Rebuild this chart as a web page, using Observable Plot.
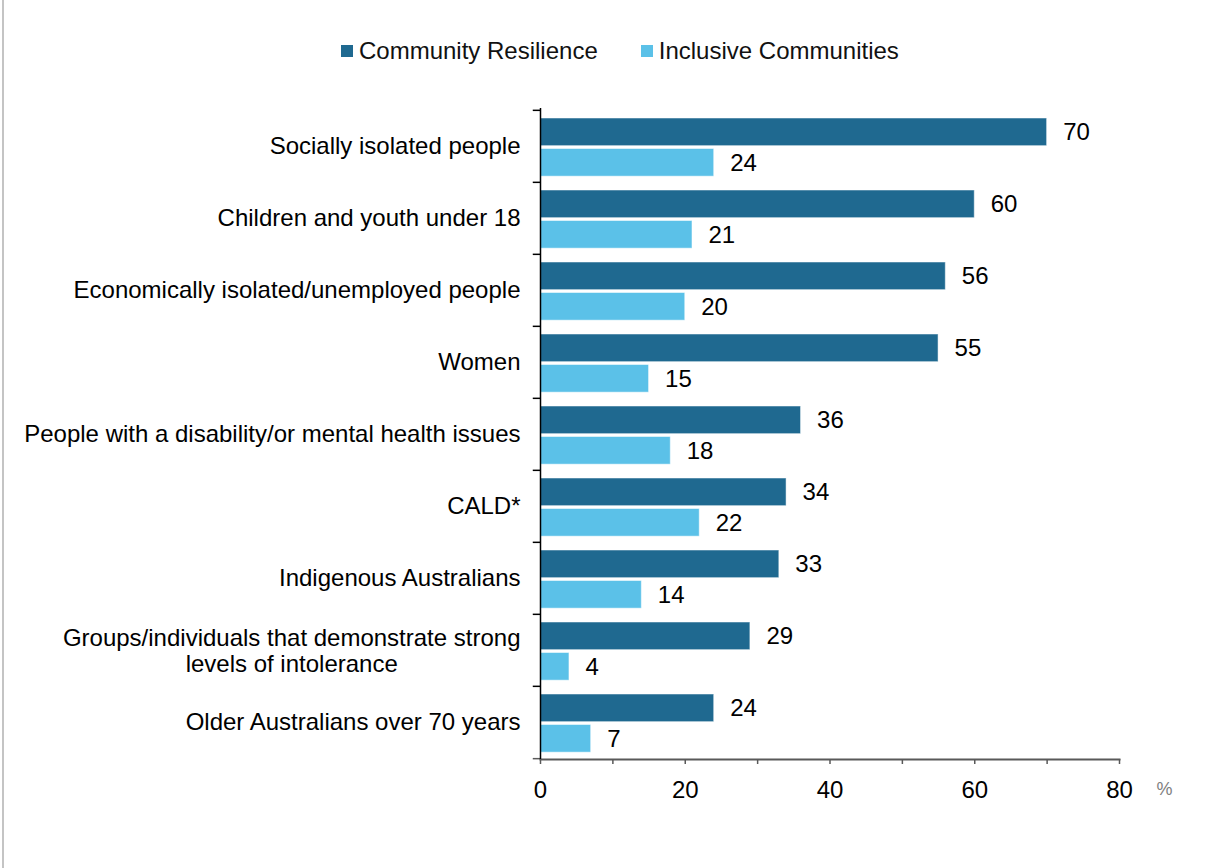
<!DOCTYPE html>
<html>
<head>
<meta charset="utf-8">
<script src="https://cdn.jsdelivr.net/npm/d3@7"></script>
<script src="https://cdn.jsdelivr.net/npm/@observablehq/plot@0.6"></script>
<style>
  html, body { margin: 0; padding: 0; background: #fff; }
  #wrap { position: relative; width: 1210px; height: 868px; overflow: hidden; font-family: "Liberation Sans", Arial, sans-serif; }
  #border { position: absolute; left: 2px; top: 0; width: 2px; height: 868px; background: #c4c4c4; }
  #legend { position: relative; height: 90px; }
  #legend .items { position: absolute; left: 341px; top: 37px; display: flex; align-items: center; font-size: 24px; line-height: 28px; color: #111; }
  #legend .item { display: flex; align-items: center; margin-right: 43px; }
  #legend .sw { width: 12px; height: 12px; margin-right: 6px; }
  svg { display: block; }
</style>
</head>
<body>
<div id="wrap">
  <div id="border"></div>
  <div id="legend"><div class="items"></div></div>
  <div id="chart"></div>
</div>
<script>
const categories = [
  "Socially isolated people",
  "Children and youth under 18",
  "Economically isolated/unemployed people",
  "Women",
  "People with a disability/or mental health issues",
  "CALD*",
  "Indigenous Australians",
  "Groups/individuals that demonstrate strong\nlevels of intolerance",
  "Older Australians over 70 years"
];
const seriesNames = ["Community Resilience", "Inclusive Communities"];
const resilience = [70, 60, 56, 55, 36, 34, 33, 29, 24];
const inclusive = [24, 21, 20, 15, 18, 22, 14, 4, 7];
const seriesColors = ["#1f6990", "#5bc1e8"];
const xTicks = [0, 10, 20, 30, 40, 50, 60, 70, 80];
const unitLabel = "%";

const fontFamily = '"Liberation Sans", Arial, sans-serif';

// Legend
const legendItems = document.querySelector("#legend .items");
seriesNames.forEach((name, i) => {
  const it = document.createElement("div");
  it.className = "item";
  const sw = document.createElement("span");
  sw.className = "sw";
  sw.style.background = seriesColors[i];
  const tx = document.createElement("span");
  tx.textContent = name;
  it.appendChild(sw); it.appendChild(tx);
  legendItems.appendChild(it);
});

const rows = categories.map((c, i) => ({category: c, res: resilience[i], inc: inclusive[i]}));

const width = 1210, height = 778;
const marginTop = 18, marginBottom = 109, marginLeft = 540, marginRight = 91;
const step = (height - marginTop - marginBottom) / categories.length;

const multi = categories.filter(c => c.includes("\n"));
const canvas = document.createElement("canvas");
const ctx = canvas.getContext("2d");
ctx.font = "24px " + fontFamily;
const multiDx = multi.map(c => {
  const w = Math.max(...c.split("\n").map(l => ctx.measureText(l).width));
  return -(20 + w / 2);
});

const chart = Plot.plot({
  width, height, marginTop, marginBottom, marginLeft, marginRight,
  style: {fontFamily, fontSize: "24px", color: "#000", background: "#fff", overflow: "visible"},
  x: {domain: [0, 80]},
  y: {domain: categories, padding: 0},
  marks: [
    Plot.barX(rows, {x: "res", y: "category", fill: seriesColors[0], insetTop: 8, insetBottom: step - 36, stroke: "#fff", strokeWidth: 1, strokeOpacity: 0.5}),
    Plot.barX(rows, {x: "inc", y: "category", fill: seriesColors[1], insetTop: 38.5, insetBottom: step - 66.5, stroke: "#fff", strokeWidth: 1, strokeOpacity: 0.5}),
    Plot.text(rows, {x: "res", y: "category", text: d => String(d.res), dx: 16, dy: -14, textAnchor: "start", fontSize: 24, fill: "#000"}),
    Plot.text(rows, {x: "inc", y: "category", text: d => String(d.inc), dx: 16, dy: 17, textAnchor: "start", fontSize: 24, fill: "#000"}),
    Plot.axisY({tickSize: 0, tickPadding: 20, fontSize: 24, tickFormat: d => d.includes("\n") ? "" : d, label: null, fill: "#000"}),
    ...multi.map((c, i) => Plot.text([c], {y: d => d, text: d => d, frameAnchor: "left", dx: multiDx[i], textAnchor: "middle", lineHeight: 1.1, fontSize: 24, fill: "#000"})),
    Plot.axisX({ticks: xTicks, tickFormat: d => d % 20 === 0 ? String(d) : "", tickSize: 5, tickPadding: 16, fontSize: 24, stroke: "#595959", strokeWidth: 1.5, label: null, fill: "#000"}),
    Plot.frame({anchor: "bottom", stroke: "#595959", strokeWidth: 2}),
    Plot.ruleY(categories, {y: d => d, x1: -1, x2: 0, dy: -step / 2, stroke: "#000", strokeWidth: 1.5}),
    Plot.ruleY(categories.slice(-1), {y: d => d, x1: -1, x2: 0, dy: step / 2, stroke: "#595959", strokeWidth: 1.5}),
    Plot.ruleX([0], {stroke: "#000", strokeWidth: 1.5}),
    Plot.text([unitLabel], {frameAnchor: "bottom-right", text: d => d, dx: 45, dy: 35, textAnchor: "middle", fontSize: 18, fill: "#7f7f7f"})
  ]
});
document.getElementById("chart").appendChild(chart);
</script>
</body>
</html>
